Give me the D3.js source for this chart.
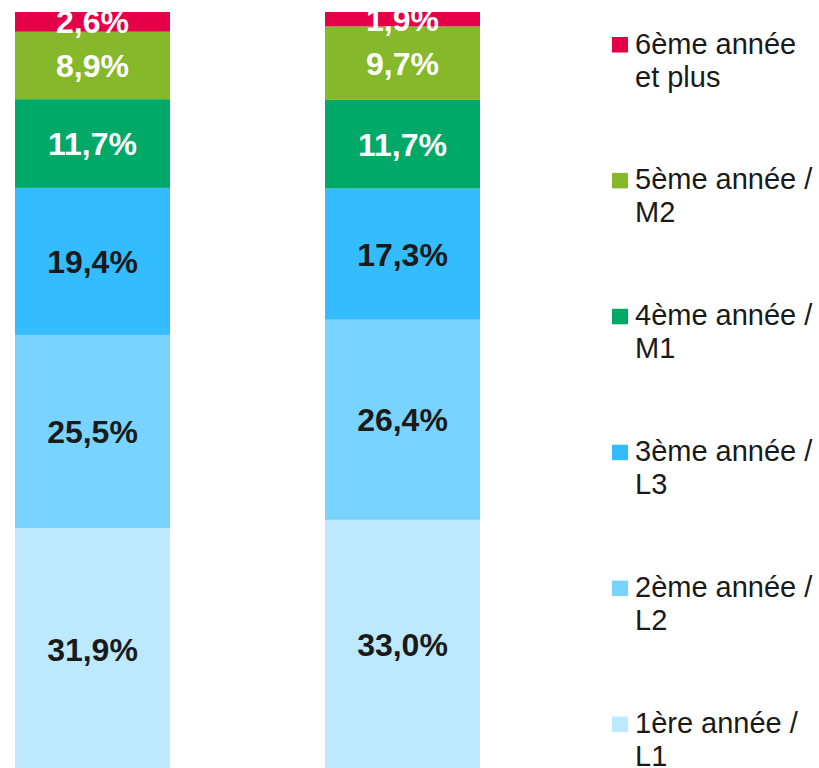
<!DOCTYPE html>
<html>
<head>
<meta charset="utf-8">
<script src="https://cdn.jsdelivr.net/npm/d3@7"></script>
<style>
  html, body { margin: 0; padding: 0; background: #fff; }
  svg { display: block; font-family: "Liberation Sans", Arial, sans-serif; }
</style>
</head>
<body>
<script>
// categories, bottom of the stack first
var categories = ["1ère année / L1", "2ème année / L2", "3ème année / L3",
                  "4ème année / M1", "5ème année / M2", "6ème année et plus"];
var legendLines = [["1ère année /", "L1"], ["2ème année /", "L2"], ["3ème année /", "L3"],
                   ["4ème année /", "M1"], ["5ème année /", "M2"], ["6ème année", "et plus"]];
var colors = ["#bde9ff", "#79d3ff", "#33bdff", "#00a968", "#86b82b", "#e5004a"];
var labelColors = ["#1a1a1a", "#1a1a1a", "#1a1a1a", "#fff", "#fff", "#fff"];

var bars = ["bar1", "bar2"];
var bar1 = [31.9, 25.5, 19.4, 11.7, 8.9, 2.6];
var bar2 = [33.0, 26.4, 17.3, 11.7, 9.7, 1.9];

var W = 819, H = 768;

var rows = [bar1, bar2].map(function (vals, j) {
  var r = { bar: bars[j] };
  categories.forEach(function (c, i) { r[c] = vals[i]; });
  return r;
});

var series = d3.stack().keys(categories)(rows);

var x = d3.scaleBand().domain(bars).range([15, 480]).paddingInner(0.5).paddingOuter(0);
var y = d3.scaleLinear().domain([0, 100]).range([770, 12]);

var svg = d3.select("body").append("svg")
    .attr("width", W).attr("height", H);

var fmt = function (v) { return d3.format(".1f")(v).replace(".", ",") + "%"; };

var layer = svg.selectAll("g.layer")
  .data(series)
  .enter().append("g")
    .attr("class", "layer")
    .attr("fill", function (d, i) { return colors[i]; });

layer.selectAll("rect")
  .data(function (d) { return d; })
  .enter().append("rect")
    .attr("x", function (d) { return x(d.data.bar); })
    .attr("width", x.bandwidth())
    .attr("y", function (d) { return y(d[1]); })
    .attr("height", function (d) { return y(d[0]) - y(d[1]); });

// value labels
series.forEach(function (s, i) {
  svg.append("g").selectAll("text")
    .data(s)
    .enter().append("text")
      .attr("x", function (d) { return x(d.data.bar) + x.bandwidth() / 2; })
      .attr("y", function (d) { return (y(d[0]) + y(d[1])) / 2; })
      .attr("dy", "0.36em")
      .attr("text-anchor", "middle")
      .attr("font-weight", "bold")
      .attr("font-size", 32)
      .attr("fill", labelColors[i])
      .text(function (d) { return fmt(d[1] - d[0]); });
});

// legend, top item is the last category
var legend = svg.append("g").attr("class", "legend");
var order = d3.range(categories.length).reverse();
var item = legend.selectAll("g")
  .data(order)
  .enter().append("g")
    .attr("transform", function (d, k) { return "translate(612," + (53.5 + k * 135.9) + ")"; });

item.append("rect")
  .attr("x", 0).attr("y", -16.5)
  .attr("width", 16).attr("height", 15.5)
  .attr("fill", function (d) { return colors[d]; });

item.append("text")
  .attr("font-size", 29)
  .attr("fill", "#1a1a1a")
  .selectAll("tspan")
  .data(function (d) { return legendLines[d]; })
  .enter().append("tspan")
    .attr("x", 23)
    .attr("y", function (d, i) { return i * 33; })
    .text(function (d) { return d; });
</script>
</body>
</html>
